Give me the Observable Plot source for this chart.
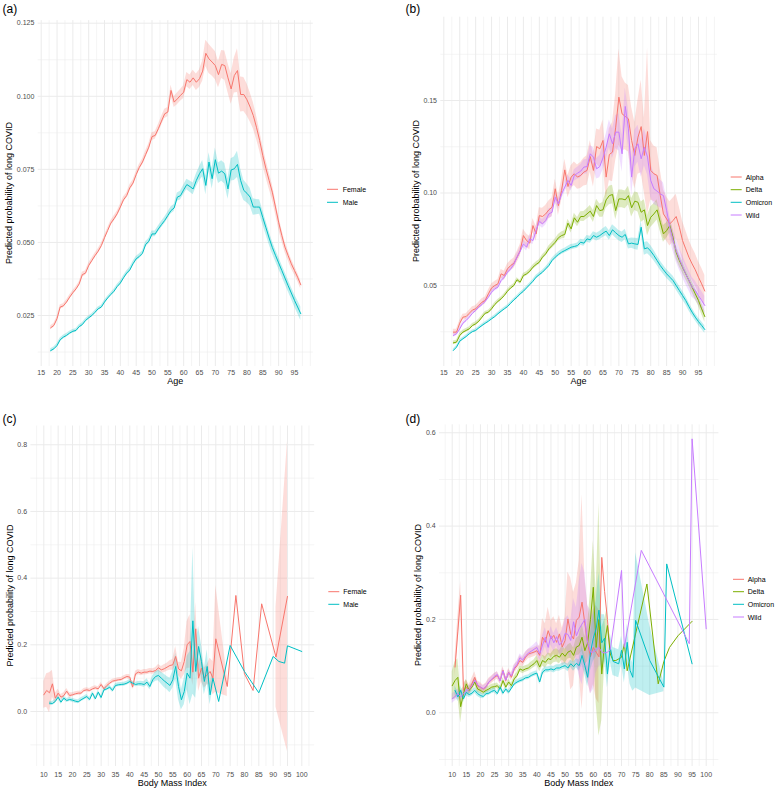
<!DOCTYPE html>
<html>
<head>
<meta charset="utf-8">
<script src="https://cdn.jsdelivr.net/npm/d3@7"></script>
<script src="https://cdn.jsdelivr.net/npm/@observablehq/plot@0.6"></script>
<style>
  html, body { margin: 0; padding: 0; background: #ffffff; }
  #chart { position: relative; width: 780px; height: 793px; background: #ffffff; overflow: hidden; }
  #chart > .panel { position: absolute; }
  #overlay { position: absolute; left: 0; top: 0; }
</style>
</head>
<body>
<div id="chart"></div>
<script>
// ---------------- categories / levels ----------------
const sexLevels = ["Female", "Male"];
const sexColors = ["#F8766D", "#00BFC4"];
const variantLevels = ["Alpha", "Delta", "Omicron", "Wild"];
const variantColors = ["#F8766D", "#7CAE00", "#00BFC4", "#C77CFF"];
const panelTags = ["(a)", "(b)", "(c)", "(d)"];
const yTitle = "Predicted probability of long COVID";
const xTitleAge = "Age";
const xTitleBmi = "Body Mass Index";

// ---------------- tick labels ----------------
const xTicksAge = [15, 20, 25, 30, 35, 40, 45, 50, 55, 60, 65, 70, 75, 80, 85, 90, 95];
const xMinorAge = [17.5, 22.5, 27.5, 32.5, 37.5, 42.5, 47.5, 52.5, 57.5, 62.5, 67.5, 72.5, 77.5, 82.5, 87.5, 92.5, 97.5, 100];
const xTicksBmi = [10, 15, 20, 25, 30, 35, 40, 45, 50, 55, 60, 65, 70, 75, 80, 85, 90, 95, 100];
const xMinorBmi = [7.5, 12.5, 17.5, 22.5, 27.5, 32.5, 37.5, 42.5, 47.5, 52.5, 57.5, 62.5, 67.5, 72.5, 77.5, 82.5, 87.5, 92.5, 97.5, 102.5];
const yTicksA = [0.025, 0.05, 0.075, 0.1, 0.125];
const yMinorA = [0.0125, 0.0375, 0.0625, 0.0875, 0.1125];
const yTicksB = [0.05, 0.10, 0.15];
const yMinorB = [0.025, 0.075, 0.125, 0.175];
const yTicksC = [0, 0.2, 0.4, 0.6, 0.8];
const yMinorC = [-0.1, 0.1, 0.3, 0.5, 0.7];
const yTicksD = [0, 0.2, 0.4, 0.6];
const yMinorD = [-0.1, 0.1, 0.3, 0.5];

// ---------------- panel (a)/(b): age ----------------
const ages = [18, 19, 20, 21, 22, 23, 24, 25, 26, 27,
  28, 29, 30, 31, 32, 33, 34, 35, 36, 37,
  38, 39, 40, 41, 42, 43, 44, 45, 46, 47,
  48, 49, 50, 51, 52, 53, 54, 55, 56, 57,
  58, 59, 60, 61, 62, 63, 64, 65, 66, 67,
  68, 69, 70, 71, 72, 73, 74, 75, 76, 77,
  78, 79, 80, 81, 82, 83, 84, 85, 86, 87,
  88, 89, 90, 91, 92, 93, 94, 95, 96, 97];

const femaleA = [0.0208, 0.0216, 0.0239, 0.0279, 0.0283, 0.0296, 0.0313, 0.0328, 0.0341, 0.0358,
  0.0390, 0.0395, 0.0421, 0.0438, 0.0455, 0.0470, 0.0489, 0.0516, 0.0541, 0.0566,
  0.0581, 0.0598, 0.0621, 0.0646, 0.0660, 0.0687, 0.0703, 0.0732, 0.0757, 0.0775,
  0.0801, 0.0826, 0.0862, 0.0866, 0.0889, 0.0915, 0.0940, 0.0946, 0.1020, 0.0980,
  0.0991, 0.1003, 0.1014, 0.1057, 0.1048, 0.1063, 0.1048, 0.1060, 0.1086, 0.1147,
  0.1128, 0.1117, 0.1105, 0.1074, 0.1109, 0.1105, 0.1063, 0.1025, 0.1071, 0.1088,
  0.1006, 0.1006, 0.0988, 0.0963, 0.0934, 0.0894, 0.0849, 0.0797, 0.0752, 0.0712,
  0.0672, 0.0621, 0.0569, 0.0524, 0.0484, 0.0455, 0.0427, 0.0404, 0.0381, 0.0355];
const femaleAhw = [0.0007, 0.0007, 0.0007, 0.0007, 0.0007, 0.0007, 0.0007, 0.0007, 0.0007, 0.0007,
  0.0008, 0.0008, 0.0008, 0.0008, 0.0008, 0.0008, 0.0008, 0.0008, 0.0008, 0.0008,
  0.0009, 0.0009, 0.0009, 0.0009, 0.0009, 0.0010, 0.0010, 0.0010, 0.0010, 0.0010,
  0.0012, 0.0012, 0.0013, 0.0013, 0.0014, 0.0015, 0.0016, 0.0016, 0.0018, 0.0018,
  0.0020, 0.0020, 0.0022, 0.0024, 0.0025, 0.0026, 0.0028, 0.0030, 0.0035, 0.0045,
  0.0050, 0.0048, 0.0048, 0.0045, 0.0048, 0.0050, 0.0050, 0.0052, 0.0060, 0.0075,
  0.0060, 0.0058, 0.0055, 0.0050, 0.0045, 0.0040, 0.0035, 0.0032, 0.0030, 0.0028,
  0.0026, 0.0024, 0.0022, 0.0020, 0.0018, 0.0017, 0.0016, 0.0015, 0.0014, 0.0014];
const maleA = [0.0130, 0.0136, 0.0147, 0.0167, 0.0176, 0.0182, 0.0190, 0.0196, 0.0199, 0.0212,
  0.0219, 0.0233, 0.0242, 0.0250, 0.0261, 0.0273, 0.0279, 0.0296, 0.0310, 0.0322,
  0.0333, 0.0349, 0.0361, 0.0379, 0.0395, 0.0406, 0.0427, 0.0444, 0.0452, 0.0463,
  0.0493, 0.0504, 0.0529, 0.0529, 0.0546, 0.0561, 0.0575, 0.0592, 0.0609, 0.0618,
  0.0655, 0.0660, 0.0680, 0.0698, 0.0691, 0.0683, 0.0712, 0.0735, 0.0752, 0.0695,
  0.0775, 0.0718, 0.0783, 0.0737, 0.0744, 0.0735, 0.0683, 0.0748, 0.0752, 0.0767,
  0.0712, 0.0678, 0.0668, 0.0655, 0.0621, 0.0621, 0.0621, 0.0585, 0.0550, 0.0515,
  0.0483, 0.0456, 0.0430, 0.0404, 0.0378, 0.0352, 0.0327, 0.0302, 0.0279, 0.0256];
const maleAhw = [0.0006, 0.0006, 0.0006, 0.0006, 0.0006, 0.0006, 0.0006, 0.0006, 0.0006, 0.0006,
  0.0006, 0.0006, 0.0006, 0.0006, 0.0006, 0.0006, 0.0006, 0.0006, 0.0006, 0.0006,
  0.0007, 0.0007, 0.0007, 0.0007, 0.0007, 0.0008, 0.0008, 0.0008, 0.0008, 0.0008,
  0.0009, 0.0009, 0.0010, 0.0010, 0.0010, 0.0011, 0.0011, 0.0011, 0.0012, 0.0012,
  0.0014, 0.0015, 0.0016, 0.0018, 0.0019, 0.0020, 0.0022, 0.0024, 0.0028, 0.0032,
  0.0032, 0.0035, 0.0040, 0.0035, 0.0035, 0.0035, 0.0035, 0.0038, 0.0040, 0.0045,
  0.0040, 0.0035, 0.0032, 0.0030, 0.0028, 0.0026, 0.0025, 0.0024, 0.0023, 0.0022,
  0.0021, 0.0020, 0.0020, 0.0020, 0.0020, 0.0020, 0.0020, 0.0021, 0.0022, 0.0023];

const alphaB = [0.0248, 0.0248, 0.0296, 0.0329, 0.0332, 0.0350, 0.0368, 0.0374, 0.0392, 0.0410,
  0.0419, 0.0455, 0.0487, 0.0500, 0.0509, 0.0563, 0.0554, 0.0590, 0.0608, 0.0620,
  0.0653, 0.0689, 0.0770, 0.0743, 0.0729, 0.0824, 0.0779, 0.0878, 0.0873, 0.0887,
  0.0909, 0.0923, 0.1023, 0.0932, 0.1014, 0.1125, 0.1035, 0.1086, 0.1104, 0.1086,
  0.1095, 0.1113, 0.1122, 0.1197, 0.1122, 0.1251, 0.1239, 0.1284, 0.1086, 0.1208,
  0.1221, 0.1356, 0.1518, 0.1428, 0.1414, 0.1401, 0.1284, 0.1203, 0.1302, 0.1359,
  0.1203, 0.1332, 0.1122, 0.1104, 0.1095, 0.0986, 0.0887, 0.0860, 0.0833, 0.0851,
  0.0873, 0.0815, 0.0743, 0.0698, 0.0653, 0.0617, 0.0585, 0.0545, 0.0509, 0.0470];
const alphaBhw = [0.0015, 0.0015, 0.0015, 0.0015, 0.0016, 0.0016, 0.0017, 0.0017, 0.0018, 0.0018,
  0.0019, 0.0020, 0.0021, 0.0022, 0.0023, 0.0024, 0.0025, 0.0026, 0.0027, 0.0028,
  0.0030, 0.0032, 0.0034, 0.0035, 0.0036, 0.0038, 0.0040, 0.0042, 0.0044, 0.0046,
  0.0048, 0.0050, 0.0052, 0.0054, 0.0056, 0.0058, 0.0060, 0.0062, 0.0064, 0.0066,
  0.0070, 0.0075, 0.0080, 0.0085, 0.0090, 0.0095, 0.0100, 0.0110, 0.0120, 0.0140,
  0.0160, 0.0180, 0.0260, 0.0200, 0.0180, 0.0180, 0.0180, 0.0180, 0.0200, 0.0250,
  0.0200, 0.0450, 0.0160, 0.0150, 0.0150, 0.0140, 0.0130, 0.0120, 0.0120, 0.0120,
  0.0120, 0.0110, 0.0105, 0.0100, 0.0095, 0.0090, 0.0088, 0.0085, 0.0085, 0.0085];
const deltaB = [0.0190, 0.0194, 0.0230, 0.0248, 0.0257, 0.0266, 0.0284, 0.0293, 0.0307, 0.0329,
  0.0350, 0.0356, 0.0374, 0.0397, 0.0414, 0.0428, 0.0446, 0.0469, 0.0487, 0.0500,
  0.0531, 0.0518, 0.0554, 0.0563, 0.0577, 0.0599, 0.0614, 0.0626, 0.0653, 0.0671,
  0.0698, 0.0716, 0.0734, 0.0758, 0.0770, 0.0776, 0.0837, 0.0806, 0.0866, 0.0842,
  0.0873, 0.0873, 0.0887, 0.0902, 0.0873, 0.0932, 0.0905, 0.0909, 0.0963, 0.0986,
  0.0992, 0.0905, 0.0968, 0.0968, 0.0963, 0.0986, 0.0920, 0.0956, 0.0950, 0.0896,
  0.0909, 0.0824, 0.0869, 0.0887, 0.0909, 0.0842, 0.0779, 0.0797, 0.0824, 0.0761,
  0.0680, 0.0635, 0.0599, 0.0563, 0.0527, 0.0491, 0.0455, 0.0419, 0.0374, 0.0332];
const deltaBhw = [0.0010, 0.0010, 0.0010, 0.0010, 0.0010, 0.0010, 0.0010, 0.0010, 0.0010, 0.0010,
  0.0010, 0.0010, 0.0010, 0.0010, 0.0010, 0.0010, 0.0010, 0.0010, 0.0010, 0.0010,
  0.0011, 0.0011, 0.0011, 0.0012, 0.0012, 0.0012, 0.0013, 0.0013, 0.0013, 0.0013,
  0.0015, 0.0016, 0.0017, 0.0018, 0.0019, 0.0020, 0.0021, 0.0022, 0.0024, 0.0025,
  0.0026, 0.0027, 0.0028, 0.0030, 0.0032, 0.0034, 0.0036, 0.0040, 0.0045, 0.0050,
  0.0050, 0.0050, 0.0048, 0.0048, 0.0048, 0.0050, 0.0050, 0.0050, 0.0052, 0.0055,
  0.0055, 0.0055, 0.0055, 0.0055, 0.0055, 0.0050, 0.0045, 0.0042, 0.0040, 0.0038,
  0.0036, 0.0034, 0.0032, 0.0030, 0.0030, 0.0030, 0.0030, 0.0030, 0.0030, 0.0030];
const omicronB = [0.0149, 0.0167, 0.0199, 0.0212, 0.0224, 0.0239, 0.0251, 0.0257, 0.0271, 0.0284,
  0.0296, 0.0307, 0.0320, 0.0332, 0.0347, 0.0361, 0.0374, 0.0386, 0.0404, 0.0422,
  0.0437, 0.0455, 0.0469, 0.0487, 0.0505, 0.0523, 0.0545, 0.0559, 0.0572, 0.0590,
  0.0608, 0.0635, 0.0653, 0.0668, 0.0680, 0.0689, 0.0698, 0.0707, 0.0711, 0.0716,
  0.0734, 0.0729, 0.0752, 0.0747, 0.0770, 0.0761, 0.0770, 0.0783, 0.0794, 0.0770,
  0.0801, 0.0785, 0.0770, 0.0761, 0.0776, 0.0725, 0.0729, 0.0725, 0.0722, 0.0815,
  0.0698, 0.0704, 0.0686, 0.0662, 0.0635, 0.0608, 0.0585, 0.0563, 0.0545, 0.0527,
  0.0500, 0.0473, 0.0446, 0.0419, 0.0386, 0.0356, 0.0329, 0.0305, 0.0284, 0.0262];
const omicronBhw = [0.0008, 0.0008, 0.0008, 0.0008, 0.0008, 0.0008, 0.0008, 0.0008, 0.0008, 0.0008,
  0.0008, 0.0008, 0.0008, 0.0008, 0.0008, 0.0008, 0.0008, 0.0008, 0.0008, 0.0008,
  0.0009, 0.0009, 0.0009, 0.0009, 0.0009, 0.0010, 0.0010, 0.0010, 0.0010, 0.0010,
  0.0012, 0.0012, 0.0012, 0.0013, 0.0013, 0.0013, 0.0014, 0.0014, 0.0014, 0.0014,
  0.0016, 0.0017, 0.0018, 0.0019, 0.0020, 0.0021, 0.0022, 0.0024, 0.0025, 0.0026,
  0.0027, 0.0028, 0.0028, 0.0028, 0.0028, 0.0028, 0.0028, 0.0030, 0.0032, 0.0035,
  0.0035, 0.0032, 0.0030, 0.0028, 0.0026, 0.0025, 0.0024, 0.0024, 0.0024, 0.0024,
  0.0024, 0.0024, 0.0024, 0.0023, 0.0022, 0.0021, 0.0020, 0.0020, 0.0020, 0.0020];
const wildB = [0.0230, 0.0239, 0.0266, 0.0296, 0.0311, 0.0329, 0.0350, 0.0365, 0.0383, 0.0397,
  0.0415, 0.0437, 0.0464, 0.0482, 0.0491, 0.0527, 0.0545, 0.0572, 0.0590, 0.0614,
  0.0653, 0.0686, 0.0725, 0.0707, 0.0752, 0.0743, 0.0797, 0.0848, 0.0833, 0.0851,
  0.0887, 0.0896, 0.0977, 0.0941, 0.0995, 0.1032, 0.1068, 0.1041, 0.1095, 0.1107,
  0.1118, 0.1140, 0.1143, 0.1212, 0.1194, 0.1131, 0.1143, 0.1190, 0.1248, 0.1320,
  0.1266, 0.1329, 0.1329, 0.1212, 0.1468, 0.1347, 0.1086, 0.1239, 0.1266, 0.1185,
  0.1248, 0.1194, 0.1068, 0.1023, 0.1010, 0.0995, 0.0986, 0.0905, 0.0815, 0.0747,
  0.0689, 0.0644, 0.0603, 0.0563, 0.0527, 0.0491, 0.0473, 0.0446, 0.0419, 0.0392];
const wildBhw = [0.0010, 0.0010, 0.0010, 0.0010, 0.0010, 0.0010, 0.0010, 0.0010, 0.0010, 0.0010,
  0.0012, 0.0012, 0.0013, 0.0013, 0.0013, 0.0014, 0.0014, 0.0014, 0.0015, 0.0015,
  0.0018, 0.0019, 0.0020, 0.0021, 0.0022, 0.0022, 0.0023, 0.0024, 0.0024, 0.0025,
  0.0026, 0.0026, 0.0027, 0.0028, 0.0028, 0.0029, 0.0030, 0.0030, 0.0031, 0.0032,
  0.0035, 0.0038, 0.0040, 0.0045, 0.0050, 0.0055, 0.0060, 0.0065, 0.0070, 0.0075,
  0.0080, 0.0090, 0.0100, 0.0100, 0.0100, 0.0100, 0.0100, 0.0100, 0.0100, 0.0100,
  0.0100, 0.0095, 0.0090, 0.0085, 0.0080, 0.0075, 0.0070, 0.0065, 0.0060, 0.0060,
  0.0060, 0.0060, 0.0060, 0.0058, 0.0056, 0.0054, 0.0052, 0.0050, 0.0050, 0.0050];

// ---------------- panel (c): BMI by sex ----------------
const bmiFemaleC = [10, 11, 12, 13, 14, 15, 16, 17, 18, 19,
  20, 21, 22, 23, 24, 25, 26, 27, 28, 29,
  30, 31, 32, 33, 34, 35, 36, 37, 38, 39,
  40, 41, 42, 43, 44, 45, 46, 47, 48, 49,
  50, 51, 52, 53, 54, 55, 56, 57, 58, 59,
  60, 61, 62, 63, 64, 65, 66, 67, 68, 69, 70,
  74, 77, 80, 83, 86, 91, 95];
const femaleC = [0.050, 0.063, 0.056, 0.083, 0.040, 0.055, 0.043, 0.048, 0.061, 0.048,
  0.050, 0.053, 0.055, 0.055, 0.063, 0.065, 0.063, 0.068, 0.071, 0.068,
  0.081, 0.068, 0.078, 0.085, 0.091, 0.093, 0.095, 0.096, 0.101, 0.105,
  0.103, 0.073, 0.113, 0.118, 0.115, 0.118, 0.118, 0.121, 0.120, 0.123,
  0.131, 0.125, 0.128, 0.133, 0.138, 0.140, 0.165, 0.128, 0.122, 0.150,
  0.200, 0.210, 0.118, 0.248, 0.100, 0.130, 0.100, 0.110, 0.120, 0.100, 0.218,
  0.075, 0.348, 0.113, 0.063, 0.323, 0.163, 0.345];
const femaleChw = [0.040, 0.050, 0.060, 0.040, 0.015, 0.012, 0.008, 0.008, 0.008, 0.008,
  0.006, 0.006, 0.006, 0.006, 0.006, 0.006, 0.006, 0.006, 0.006, 0.006,
  0.006, 0.006, 0.006, 0.006, 0.006, 0.006, 0.006, 0.006, 0.006, 0.006,
  0.008, 0.008, 0.008, 0.008, 0.008, 0.008, 0.008, 0.008, 0.008, 0.008,
  0.010, 0.010, 0.012, 0.012, 0.014, 0.016, 0.030, 0.020, 0.025, 0.040,
  0.070, 0.080, 0.040, 0.080, 0.040, 0.040, 0.030, 0.030, 0.040, 0.050, 0.160,
  0.030, null, null, null, null, 0.150, 0.465];
const bmiMaleC = [12, 13, 14, 15, 16, 17, 18, 19, 20, 21,
  22, 23, 24, 25, 26, 27, 28, 29, 30, 31,
  32, 33, 34, 35, 36, 37, 38, 39, 40, 41,
  42, 43, 44, 45, 46, 47, 48, 49, 50, 51,
  52, 53, 54, 55, 56, 57, 58, 59, 60, 61,
  62, 63, 64, 65, 66, 67, 68, 69,
  71, 75, 80, 85, 90, 92, 94, 95, 100];
const maleC = [0.025, 0.024, 0.030, 0.043, 0.028, 0.040, 0.033, 0.036, 0.034, 0.031,
  0.029, 0.035, 0.040, 0.045, 0.036, 0.055, 0.038, 0.058, 0.042, 0.065,
  0.068, 0.073, 0.063, 0.078, 0.080, 0.081, 0.082, 0.085, 0.090, 0.085,
  0.081, 0.083, 0.083, 0.081, 0.088, 0.075, 0.095, 0.105, 0.108, 0.100,
  0.092, 0.085, 0.078, 0.095, 0.135, 0.075, 0.035, 0.060, 0.115, 0.100,
  0.272, 0.120, 0.195, 0.150, 0.090, 0.135, 0.050, 0.100,
  0.030, 0.198, 0.120, 0.056, 0.165, 0.150, 0.145, 0.197, 0.180];
const maleChw = [0.006, 0.006, 0.006, 0.006, 0.006, 0.006, 0.006, 0.006, 0.006, 0.006,
  0.006, 0.006, 0.006, 0.006, 0.006, 0.006, 0.006, 0.006, 0.006, 0.006,
  0.006, 0.006, 0.006, 0.006, 0.006, 0.006, 0.006, 0.006, 0.006, 0.006,
  0.007, 0.007, 0.008, 0.008, 0.010, 0.010, 0.012, 0.014, 0.016, 0.018,
  0.020, 0.020, 0.022, 0.025, 0.040, 0.040, 0.030, 0.040, 0.050, 0.080,
  0.220, 0.080, 0.060, 0.050, 0.040, 0.050, 0.030, 0.030,
  null, null, null, null, null, null, null, null, null];

// ---------------- panel (d): BMI by variant ----------------
const bmiAlphaD = [11, 12, 13, 14, 15, 16, 17, 18, 19, 20,
  21, 22, 23, 24, 25, 26, 27, 28, 29, 30,
  31, 32, 33, 34, 35, 36, 37, 38, 39, 40,
  41, 42, 43, 44, 45, 46, 47, 48, 49, 50,
  51, 52, 53, 54, 55, 56, 57, 58, 59, 60,
  61, 62, 63, 64, 65, 66];
const alphaD = [0.098, 0.175, 0.252, 0.048, 0.055, 0.048, 0.062, 0.076, 0.058, 0.055,
  0.051, 0.056, 0.066, 0.071, 0.076, 0.080, 0.069, 0.091, 0.069, 0.087,
  0.076, 0.094, 0.101, 0.112, 0.108, 0.119, 0.126, 0.128, 0.130, 0.133,
  0.123, 0.162, 0.151, 0.176, 0.158, 0.166, 0.151, 0.169, 0.141, 0.155,
  0.201, 0.169, 0.158, 0.198, 0.205, 0.237, 0.191, 0.150, 0.120, 0.140,
  0.130, 0.120, 0.333, 0.260, 0.200, 0.126];
const alphaDhw = [0.020, 0.030, 0.030, 0.015, 0.015, 0.012, 0.012, 0.012, 0.010, 0.010,
  0.008, 0.008, 0.008, 0.008, 0.008, 0.008, 0.008, 0.008, 0.008, 0.008,
  0.008, 0.008, 0.008, 0.010, 0.010, 0.010, 0.010, 0.010, 0.010, 0.010,
  0.020, 0.040, 0.040, 0.050, 0.040, 0.040, 0.040, 0.040, 0.040, 0.050,
  0.100, 0.120, 0.100, 0.080, 0.120, 0.230, 0.100, 0.080, 0.080, 0.080,
  0.100, 0.100, null, null, null, null];
const bmiDeltaD = [10, 11, 12, 13, 14, 15, 16, 17, 18, 19,
  20, 21, 22, 23, 24, 25, 26, 27, 28, 29,
  30, 31, 32, 33, 34, 35, 36, 37, 38, 39,
  40, 41, 42, 43, 44, 45, 46, 47, 48, 49,
  50, 51, 52, 53, 54, 55, 56, 57, 58, 59,
  60, 61, 62, 63, 64, 65, 66, 67, 68,
  70, 71, 72, 79, 83, 85, 87, 90, 95];
const deltaD = [0.058, 0.069, 0.076, 0.013, 0.041, 0.062, 0.048, 0.055, 0.066, 0.051,
  0.048, 0.044, 0.048, 0.051, 0.055, 0.056, 0.058, 0.051, 0.069, 0.055,
  0.066, 0.058, 0.073, 0.080, 0.094, 0.091, 0.094, 0.096, 0.101, 0.105,
  0.112, 0.098, 0.112, 0.108, 0.116, 0.114, 0.121, 0.123, 0.119, 0.128,
  0.121, 0.130, 0.133, 0.123, 0.141, 0.144, 0.162, 0.133, 0.150, 0.200,
  0.269, 0.140, 0.200, 0.083, 0.150, 0.187, 0.126, 0.112, 0.112,
  0.119, 0.148, 0.090, 0.276, 0.062, 0.110, 0.140, 0.165, 0.196];
const deltaDhw = [0.030, 0.040, 0.040, 0.035, 0.015, 0.010, 0.008, 0.008, 0.008, 0.008,
  0.006, 0.006, 0.006, 0.006, 0.006, 0.006, 0.006, 0.006, 0.006, 0.006,
  0.006, 0.006, 0.006, 0.007, 0.007, 0.007, 0.007, 0.007, 0.008, 0.008,
  0.010, 0.010, 0.012, 0.012, 0.012, 0.012, 0.014, 0.014, 0.014, 0.015,
  0.015, 0.015, 0.016, 0.016, 0.018, 0.020, 0.030, 0.030, 0.040, 0.060,
  0.100, 0.120, 0.250, 0.100, 0.050, 0.040, null, null, null,
  null, null, null, null, null, null, null, null, null];
const bmiOmicronD = [11, 12, 13, 14, 15, 16, 17, 18, 19, 20,
  21, 22, 23, 24, 25, 26, 27, 28, 29, 30,
  31, 32, 33, 34, 35, 36, 37, 38, 39, 40,
  41, 42, 43, 44, 45, 46, 47, 48, 49, 50,
  51, 52, 53, 54, 55, 56, 57, 58, 59, 60,
  61, 62, 63, 64, 65, 66, 67,
  69, 70, 71, 72, 73, 74, 75, 80, 85, 86, 95];
const omicronD = [0.048, 0.034, 0.048, 0.030, 0.044, 0.039, 0.042, 0.048, 0.041, 0.037,
  0.035, 0.041, 0.042, 0.046, 0.048, 0.041, 0.055, 0.042, 0.051, 0.044,
  0.053, 0.062, 0.066, 0.069, 0.071, 0.075, 0.076, 0.080, 0.083, 0.085,
  0.066, 0.087, 0.092, 0.092, 0.094, 0.092, 0.096, 0.096, 0.099, 0.101,
  0.096, 0.105, 0.099, 0.106, 0.101, 0.123, 0.101, 0.076, 0.130, 0.160,
  0.180, 0.220, 0.150, 0.160, 0.083, 0.140, 0.110,
  0.105, 0.134, 0.094, 0.151, 0.091, 0.076, 0.198, 0.112, 0.055, 0.319, 0.105];
const omicronDhw = [0.010, 0.010, 0.010, 0.008, 0.008, 0.006, 0.006, 0.006, 0.006, 0.006,
  0.005, 0.005, 0.005, 0.005, 0.005, 0.005, 0.005, 0.005, 0.005, 0.005,
  0.005, 0.005, 0.005, 0.005, 0.005, 0.005, 0.005, 0.005, 0.005, 0.005,
  0.006, 0.006, 0.006, 0.006, 0.006, 0.007, 0.007, 0.007, 0.007, 0.007,
  0.008, 0.008, 0.010, 0.010, 0.012, 0.020, 0.020, 0.020, 0.040, 0.050,
  0.060, 0.080, 0.060, 0.050, 0.030, 0.030, 0.030,
  0.030, 0.030, 0.030, 0.040, 0.030, 0.030, 0.145, 0.075, 0.010, null, null];
const bmiWildD = [10, 11, 12, 13, 14, 15, 16, 17, 18, 19,
  20, 21, 22, 23, 24, 25, 26, 27, 28, 29,
  30, 31, 32, 33, 34, 35, 36, 37, 38, 39,
  40, 41, 42, 43, 44, 45, 46, 47, 48, 49,
  50, 51, 52, 53, 54, 55, 56, 57, 58, 59,
  60, 61, 62, 63, 64, 65, 66,
  70, 71, 77, 94, 95, 100];
const wildD = [0.030, 0.035, 0.041, 0.034, 0.041, 0.048, 0.050, 0.058, 0.070, 0.060,
  0.055, 0.052, 0.056, 0.066, 0.072, 0.078, 0.082, 0.068, 0.090, 0.070,
  0.086, 0.079, 0.096, 0.104, 0.118, 0.113, 0.122, 0.128, 0.132, 0.136,
  0.140, 0.126, 0.145, 0.162, 0.140, 0.165, 0.150, 0.163, 0.145, 0.152,
  0.170, 0.168, 0.155, 0.195, 0.165, 0.180, 0.190, 0.200, 0.150, 0.130,
  0.130, 0.135, 0.140, 0.130, 0.128, 0.130, 0.135,
  0.305, 0.140, 0.348, 0.148, 0.587, 0.180];
const wildDhw = [0.010, 0.010, 0.010, 0.010, 0.010, 0.008, 0.008, 0.006, 0.006, 0.006,
  0.006, 0.006, 0.006, 0.006, 0.006, 0.006, 0.006, 0.006, 0.006, 0.006,
  0.006, 0.006, 0.007, 0.007, 0.008, 0.008, 0.008, 0.008, 0.009, 0.010,
  0.012, 0.015, 0.020, 0.020, 0.020, 0.020, 0.020, 0.020, 0.020, 0.025,
  0.030, 0.040, 0.040, 0.050, 0.060, 0.100, 0.130, 0.100, 0.080, 0.090,
  0.080, 0.050, 0.040, 0.030, null, null, null,
  null, null, null, null, null, null];

// ---------------- helpers ----------------
function rows(xs, ys, hws) {
  return xs.map((x, i) => ({x, y: ys[i], hw: hws[i]}));
}
const fmt = {a: d3.format(".3f"), b: d3.format(".2f"), c: d3.format(".1f")};

function panel(cfg) {
  const grid = "#ebebeb";
  const marks = [
    Plot.ruleX(cfg.xMinor, {stroke: grid, strokeWidth: 0.55}),
    Plot.ruleY(cfg.yMinor, {stroke: grid, strokeWidth: 0.55}),
    Plot.ruleX(cfg.xTicks, {stroke: grid, strokeWidth: 1}),
    Plot.ruleY(cfg.yTicks, {stroke: grid, strokeWidth: 1}),
    ...cfg.series.map(s => Plot.areaY(s.data, {
      x: "x",
      y1: d => d.hw == null ? NaN : d.y - d.hw,
      y2: d => d.hw == null ? NaN : d.y + d.hw,
      fill: s.color, fillOpacity: 0.25
    })),
    ...cfg.series.map(s => Plot.line(s.data, {x: "x", y: "y", stroke: s.color, strokeWidth: 1})),
    Plot.axisX(cfg.xTicks, {tickSize: 0, tickPadding: cfg.xPad, tickFormat: d => String(d), label: null}),
    Plot.axisY(cfg.yTicks, {tickSize: 0, tickPadding: 3.8, tickFormat: cfg.yFormat, label: null})
  ];
  const svg = Plot.plot({
    width: cfg.width, height: cfg.height,
    marginLeft: cfg.m[0], marginRight: cfg.m[1], marginTop: cfg.m[2], marginBottom: cfg.m[3],
    x: {type: "linear", domain: cfg.xDomain, label: null},
    y: {type: "linear", domain: cfg.yDomain, label: null},
    style: {fontFamily: "'Liberation Sans', Arial, sans-serif", fontSize: "7px", color: "#4d4d4d", background: "transparent", overflow: "visible"},
    marks
  });
  svg.classList.add("panel");
  svg.style.left = cfg.left + "px";
  svg.style.top = cfg.top + "px";
  return svg;
}

const chart = document.getElementById("chart");

chart.appendChild(panel({
  left: 0, top: 0, width: 390, height: 395, m: [37.7, 77.2, 20.1, 29],
  xDomain: [14.05, 100.95], yDomain: [0.00755, 0.12589],
  xTicks: xTicksAge, xMinor: xMinorAge, yTicks: yTicksA, yMinor: yMinorA, yFormat: fmt.a, xPad: 3.8,
  series: [
    {data: rows(ages, femaleA, femaleAhw), color: sexColors[0]},
    {data: rows(ages, maleA, maleAhw), color: sexColors[1]}
  ]
}));

chart.appendChild(panel({
  left: 390, top: 0, width: 390, height: 395, m: [50.3, 63.1, 16.7, 29],
  xDomain: [14.05, 100.95], yDomain: [0.00622, 0.19503],
  xTicks: xTicksAge, xMinor: xMinorAge, yTicks: yTicksB, yMinor: yMinorB, yFormat: fmt.b, xPad: 3.8,
  series: [
    {data: rows(ages, alphaB, alphaBhw), color: variantColors[0]},
    {data: rows(ages, deltaB, deltaBhw), color: variantColors[1]},
    {data: rows(ages, omicronB, omicronBhw), color: variantColors[2]},
    {data: rows(ages, wildB, wildBhw), color: variantColors[3]}
  ]
}));

chart.appendChild(panel({
  left: 0, top: 395, width: 390, height: 398, m: [30.4, 75.8, 30.5, 27],
  xDomain: [5.5, 104.5], yDomain: [-0.165, 0.8563],
  xTicks: xTicksBmi, xMinor: xMinorBmi, yTicks: yTicksC, yMinor: yMinorC, yFormat: fmt.c, xPad: 5.8,
  series: [
    {data: rows(bmiFemaleC, femaleC, femaleChw), color: sexColors[0]},
    {data: rows(bmiMaleC, maleC, maleChw), color: sexColors[1]}
  ]
}));

chart.appendChild(panel({
  left: 390, top: 395, width: 390, height: 398, m: [49, 61.6, 29.3, 27],
  xDomain: [5.5, 104.5], yDomain: [-0.1151, 0.6171],
  xTicks: xTicksBmi, xMinor: xMinorBmi, yTicks: yTicksD, yMinor: yMinorD, yFormat: fmt.c, xPad: 5.8,
  series: [
    {data: rows(bmiAlphaD, alphaD, alphaDhw), color: variantColors[0]},
    {data: rows(bmiDeltaD, deltaD, deltaDhw), color: variantColors[1]},
    {data: rows(bmiOmicronD, omicronD, omicronDhw), color: variantColors[2]},
    {data: rows(bmiWildD, wildD, wildDhw), color: variantColors[3]}
  ]
}));

// ---------------- overlay: tags, axis titles, legends ----------------
const ns = "http://www.w3.org/2000/svg";
const ov = document.createElementNS(ns, "svg");
ov.setAttribute("id", "overlay");
ov.setAttribute("width", 780);
ov.setAttribute("height", 793);
ov.style.fontFamily = "'Liberation Sans', Arial, sans-serif";
function addText(str, x, y, opts = {}) {
  const t = document.createElementNS(ns, "text");
  t.textContent = str;
  t.setAttribute("x", 0);
  t.setAttribute("y", 0);
  t.setAttribute("transform", `translate(${x},${y})` + (opts.rotate ? ` rotate(${opts.rotate})` : ""));
  t.setAttribute("text-anchor", opts.anchor || "start");
  t.setAttribute("dominant-baseline", "central");
  t.setAttribute("font-size", opts.size || 9);
  t.setAttribute("fill", opts.fill || "#000000");
  ov.appendChild(t);
}
function addLine(x1, x2, y, color) {
  const l = document.createElementNS(ns, "line");
  l.setAttribute("x1", x1); l.setAttribute("x2", x2);
  l.setAttribute("y1", y); l.setAttribute("y2", y);
  l.setAttribute("stroke", color); l.setAttribute("stroke-width", 1);
  ov.appendChild(l);
}
// tags
addText(panelTags[0], 2.5, 8.5, {size: 12});
addText(panelTags[1], 405.5, 8.5, {size: 12});
addText(panelTags[2], 2.5, 418.8, {size: 12});
addText(panelTags[3], 405.5, 418.8, {size: 12});
// y titles
addText(yTitle, 9.3, 193, {rotate: -90, anchor: "middle"});
addText(yTitle, 416, 191, {rotate: -90, anchor: "middle"});
addText(yTitle, 10, 595.5, {rotate: -90, anchor: "middle"});
addText(yTitle, 418.3, 595, {rotate: -90, anchor: "middle"});
// x titles
addText(xTitleAge, 175.2, 381, {anchor: "middle"});
addText(xTitleAge, 578.6, 381, {anchor: "middle"});
addText(xTitleBmi, 172.3, 782.7, {anchor: "middle"});
addText(xTitleBmi, 578.7, 782.7, {anchor: "middle"});
// legends
function legend(levels, colors, kx, tx, ys) {
  levels.forEach((lab, i) => {
    addLine(kx, kx + 11, ys[i], colors[i]);
    addText(lab, tx, ys[i], {size: 7});
  });
}
legend(sexLevels, sexColors, 327, 342.7, [189.3, 202.3]);
legend(variantLevels, variantColors, 730.7, 745.7, [177, 189.7, 202.3, 215]);
legend(sexLevels, sexColors, 328.3, 343.3, [591.7, 604.3]);
legend(variantLevels, variantColors, 733, 747.7, [579.3, 591.7, 604.3, 617]);
chart.appendChild(ov);
</script>
</body>
</html>
